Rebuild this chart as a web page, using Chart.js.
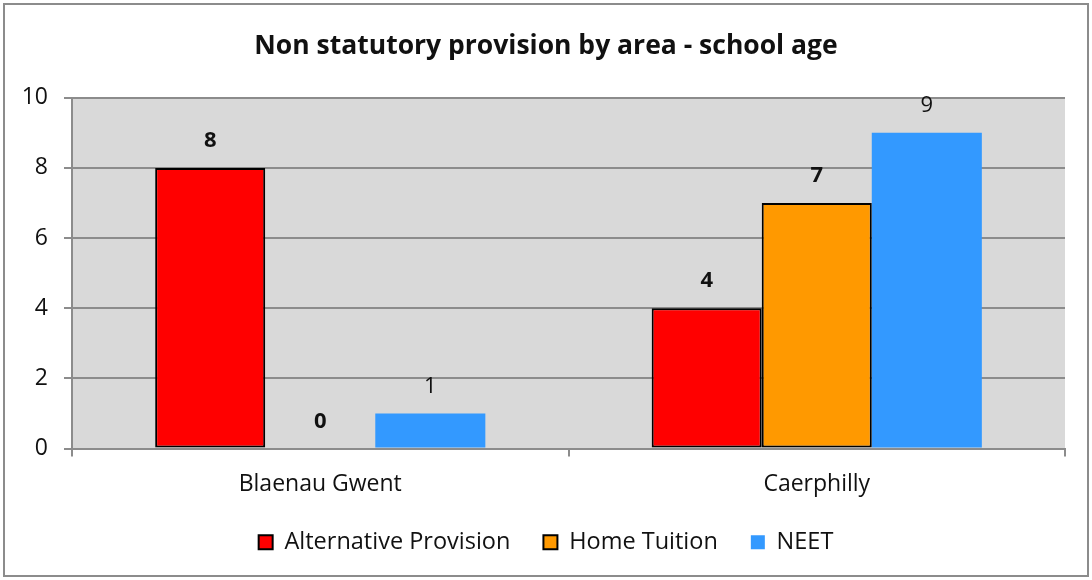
<!DOCTYPE html>
<html>
<head>
<meta charset="utf-8">
<script src="https://cdn.jsdelivr.net/npm/chart.js@4.4.1/dist/chart.umd.min.js"></script>
<style>
  html, body { margin: 0; padding: 0; background: #fff; }
  #wrap { width: 1092px; height: 580px; }
</style>
</head>
<body>
<div id="wrap"><canvas id="chart" width="1092" height="580"></canvas></div>
<script>
const areas = ['Blaenau Gwent', 'Caerphilly'];
const alternativeProvision = [8, 4];
const homeTuition = [0, 7];
const neet = [1, 9];
const yTicks = [0, 2, 4, 6, 8, 10];

const FONT = "'Open Sans', Lato, sans-serif";

// gray plot area + outer frame
const backdrop = {
  id: 'backdrop',
  beforeDraw(chart) {
    const { ctx, chartArea: a } = chart;
    ctx.save();
    ctx.fillStyle = '#fff';
    ctx.fillRect(0, 0, chart.width, chart.height);
    ctx.fillStyle = '#d9d9d9';
    ctx.fillRect(a.left, a.top, a.right - a.left, a.bottom - a.top);
    ctx.strokeStyle = '#8c8c8c';
    ctx.lineWidth = 2;
    ctx.strokeRect(4, 4, chart.width - 8, chart.height - 8);
    ctx.restore();
  }
};

// value labels above bars
const valueLabels = {
  id: 'valueLabels',
  afterDatasetsDraw(chart) {
    const { ctx } = chart;
    ctx.save();
    ctx.textAlign = 'center';
    ctx.textBaseline = 'middle';
    ctx.fillStyle = '#111';
    chart.data.datasets.forEach((ds, i) => {
      const meta = chart.getDatasetMeta(i);
      ctx.font = (ds.boldLabel ? 'bold ' : '') + '22px ' + FONT;
      meta.data.forEach((bar, j) => {
        ctx.fillText(String(ds.data[j]), bar.x, bar.y - 27);
      });
    });
    ctx.restore();
  }
};

new Chart(document.getElementById('chart'), {
  type: 'bar',
  data: {
    labels: areas,
    datasets: [
      {
        label: 'Alternative Provision',
        data: alternativeProvision,
        backgroundColor: '#ff0000',
        borderColor: '#000',
        borderWidth: 2,
        borderSkipped: false,
        boldLabel: true
      },
      {
        label: 'Home Tuition',
        data: homeTuition,
        backgroundColor: '#ff9900',
        borderColor: '#000',
        borderWidth: 2,
        borderSkipped: false,
        boldLabel: true
      },
      {
        label: 'NEET',
        data: neet,
        backgroundColor: '#3399ff',
        borderWidth: 0,
        boldLabel: false
      }
    ]
  },
  plugins: [backdrop, valueLabels],
  options: {
    responsive: false,
    animation: false,
    devicePixelRatio: 1,
    categoryPercentage: 0.665,
    barPercentage: 1,
    layout: { padding: { left: 0, right: 0, top: 0, bottom: 16 } },
    plugins: {
      title: {
        display: true,
        text: 'Non statutory provision by area - school age',
        color: '#111',
        font: { family: FONT, size: 26.5, weight: 'bold' },
        padding: { top: 31, bottom: 35 }
      },
      legend: {
        position: 'bottom',
        labels: {
          color: '#111',
          font: { family: FONT, size: 23.5 },
          boxWidth: 14,
          boxHeight: 14,
          padding: 33
        }
      },
      tooltip: { enabled: false }
    },
    scales: {
      x: {
        afterFit(scale) { scale.height = 49; },
        grid: {
          offset: true,
          drawOnChartArea: false,
          drawTicks: true,
          tickLength: 8,
          color: '#8c8c8c',
          lineWidth: 2
        },
        border: { color: '#8c8c8c', width: 2 },
        ticks: {
          color: '#111',
          font: { family: FONT, size: 23 },
          padding: 14
        }
      },
      y: {
        min: 0,
        max: 10,
        afterBuildTicks(scale) {
          scale.ticks = yTicks.map(v => ({ value: v }));
        },
        afterFit(scale) { scale.width = 72; },
        grid: {
          color: '#8c8c8c',
          lineWidth: 2,
          drawTicks: true,
          tickLength: 8
        },
        border: { color: '#8c8c8c', width: 2 },
        ticks: {
          color: '#111',
          font: { family: FONT, size: 23 },
          padding: 16
        }
      },
      // empty right margin so title and legend centre on the full width
      spacer: {
        type: 'linear',
        position: 'right',
        afterFit(scale) { scale.width = 27; },
        grid: { display: false },
        border: { display: false },
        ticks: { display: false }
      }
    }
  }
});
</script>
</body>
</html>
